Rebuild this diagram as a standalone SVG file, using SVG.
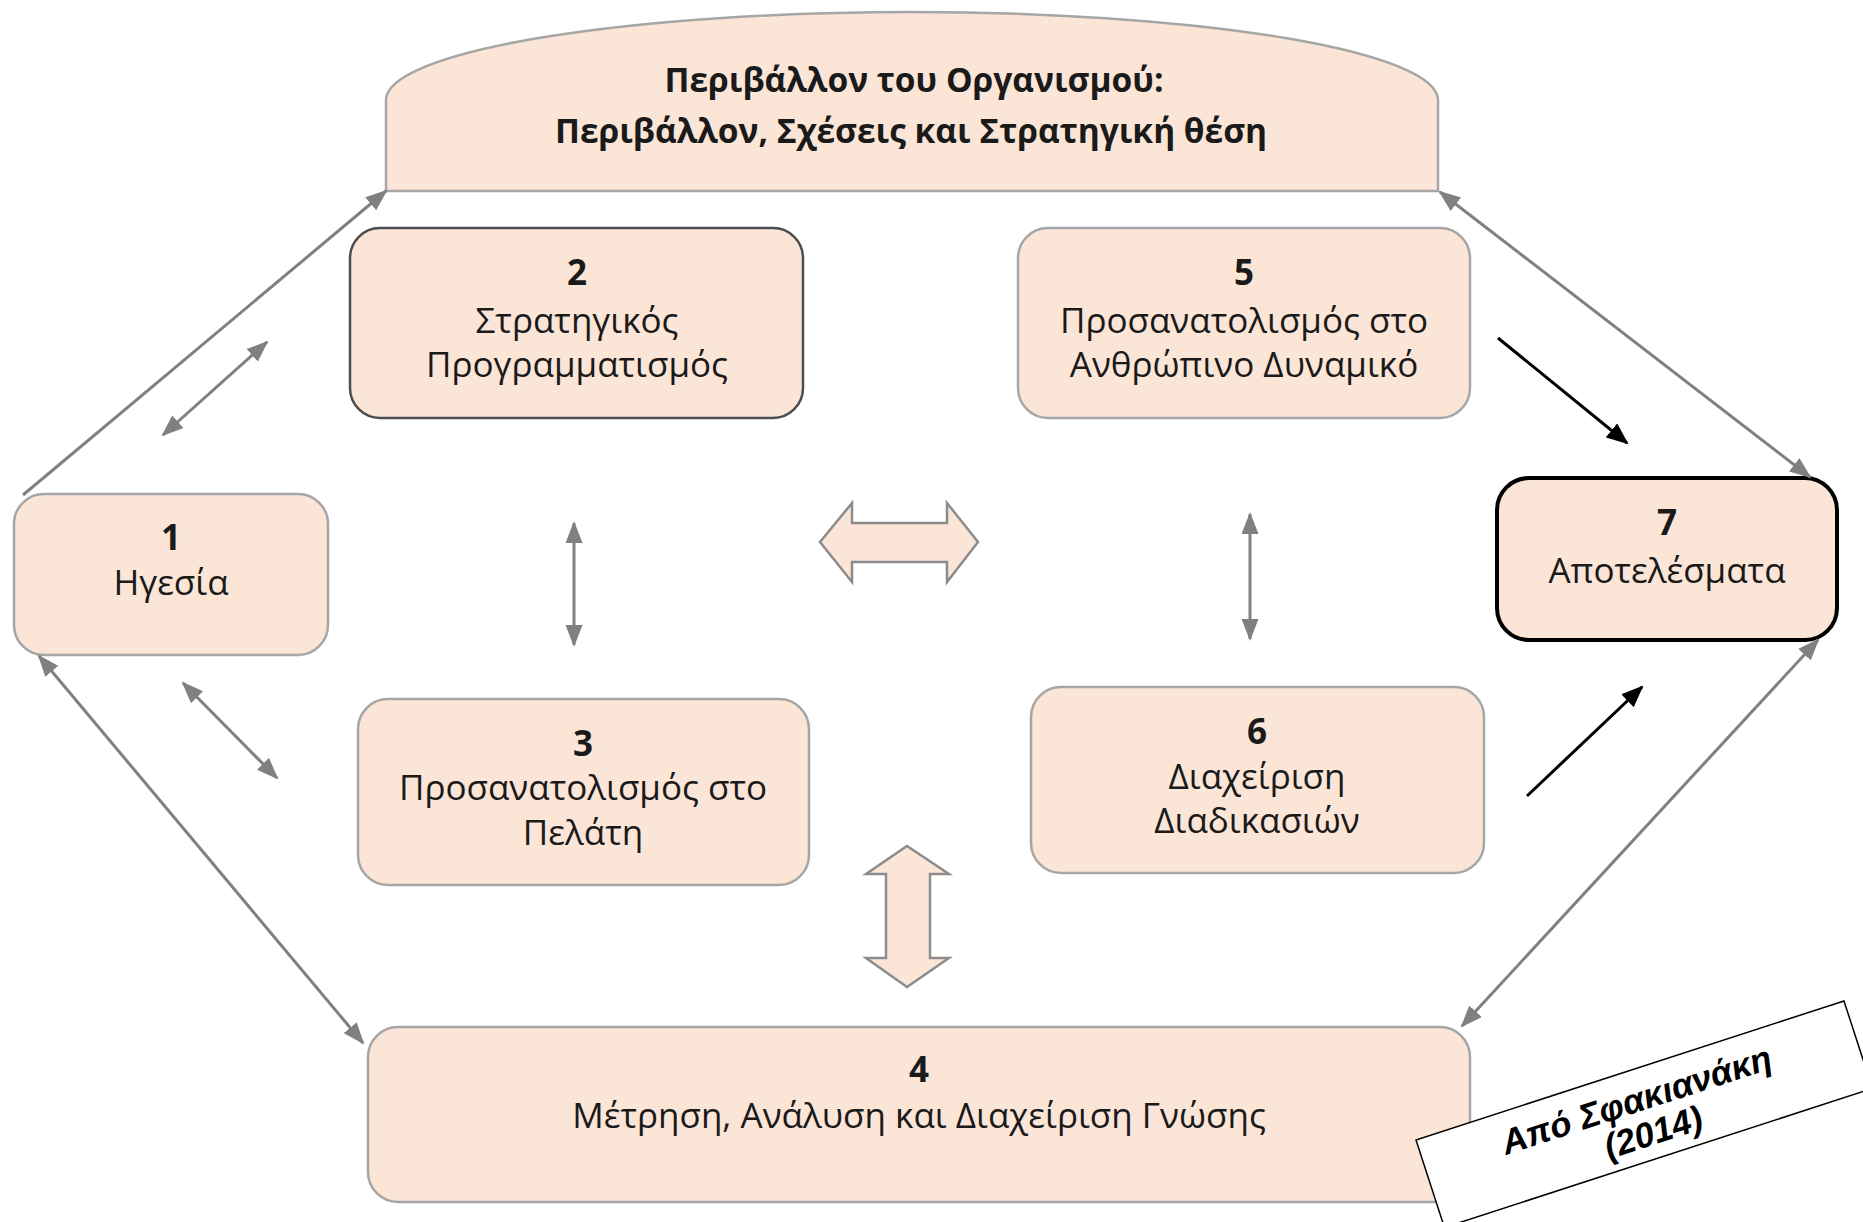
<svg xmlns="http://www.w3.org/2000/svg" width="1863" height="1222" viewBox="0 0 1863 1222">
<style>
.box{fill:#FBE5D6;stroke:#A6A6A6;stroke-width:2.5}
.t{font-family:"Open Sans","Noto Sans","DejaVu Sans",sans-serif;font-size:35px;fill:#1a1a1a;text-anchor:middle}
.n{font-weight:bold}
.title{font-family:"Open Sans","Noto Sans","DejaVu Sans",sans-serif;font-size:33.5px;font-weight:bold;fill:#1a1a1a;text-anchor:middle}
.g{stroke:#808080;stroke-width:3;fill:none}
.k{stroke:#000;stroke-width:3;fill:none}
.blk{fill:#FBE5D6;stroke:#8c8c8c;stroke-width:2.5;stroke-linejoin:miter}
.attr{font-family:"Liberation Sans",Arial,sans-serif;font-size:35px;font-weight:bold;font-style:italic;fill:#000;text-anchor:middle}
</style>
<defs>
<marker id="ag" markerUnits="userSpaceOnUse" markerWidth="22" markerHeight="17" refX="20" refY="8.5" orient="auto-start-reverse" viewBox="0 0 22 17">
<path d="M0,0 L22,8.5 L0,17 Z" fill="#808080"/>
</marker>
<marker id="ak" markerUnits="userSpaceOnUse" markerWidth="22" markerHeight="18" refX="20" refY="9" orient="auto" viewBox="0 0 22 18">
<path d="M0,0 L22,9 L0,18 Z" fill="#000"/>
</marker>
</defs>
<rect width="1863" height="1222" fill="#fff"/>

<g id="env">
<path class="box" d="M386,191 L386,100 A526,88 0 0 1 1438,100 L1438,191 Z"/>
<text class="title" x="914" y="92">Περιβάλλον του Οργανισμού:</text>
<text class="title" x="911" y="143">Περιβάλλον, Σχέσεις και Στρατηγική θέση</text>
</g>

<g id="node1">
<rect class="box" x="14" y="494" width="314" height="161" rx="30"/>
<text class="t n" x="171" y="550">1</text>
<text class="t" x="171" y="595">Ηγεσία</text>
</g>

<g id="node2">
<rect class="box" x="350" y="228" width="453" height="190" rx="30" style="stroke:#4d4d4d"/>
<text class="t n" x="577" y="285">2</text>
<text class="t" x="577" y="333">Στρατηγικός</text>
<text class="t" x="577" y="377">Προγραμματισμός</text>
</g>

<g id="node3">
<rect class="box" x="358" y="699" width="451" height="186" rx="30"/>
<text class="t n" x="583" y="756">3</text>
<text class="t" x="583" y="800">Προσανατολισμός στο</text>
<text class="t" x="583" y="845">Πελάτη</text>
</g>

<g id="node4">
<rect class="box" x="368" y="1027" width="1102" height="175" rx="30"/>
<text class="t n" x="919" y="1082">4</text>
<text class="t" x="919" y="1128">Μέτρηση, Ανάλυση και Διαχείριση Γνώσης</text>
</g>

<g id="node5">
<rect class="box" x="1018" y="228" width="452" height="190" rx="30"/>
<text class="t n" x="1244" y="285">5</text>
<text class="t" x="1244" y="333">Προσανατολισμός στο</text>
<text class="t" x="1244" y="377">Ανθρώπινο Δυναμικό</text>
</g>

<g id="node6">
<rect class="box" x="1031" y="687" width="453" height="186" rx="30"/>
<text class="t n" x="1257" y="744">6</text>
<text class="t" x="1257" y="789">Διαχείριση</text>
<text class="t" x="1257" y="833">Διαδικασιών</text>
</g>

<g id="node7">
<rect class="box" x="1497" y="478" width="340" height="162" rx="32" style="stroke:#000;stroke-width:4"/>
<text class="t n" x="1667" y="535">7</text>
<text class="t" x="1667" y="583">Αποτελέσματα</text>
</g>

<g id="connectors">
<line class="g" x1="23" y1="495" x2="386" y2="191" marker-end="url(#ag)"/>
<line class="g" x1="163" y1="435" x2="267" y2="342" marker-start="url(#ag)" marker-end="url(#ag)"/>
<line class="g" x1="39" y1="656" x2="363" y2="1043" marker-start="url(#ag)" marker-end="url(#ag)"/>
<line class="g" x1="183" y1="683" x2="277" y2="778" marker-start="url(#ag)" marker-end="url(#ag)"/>
<line class="g" x1="574" y1="523" x2="574" y2="645" marker-start="url(#ag)" marker-end="url(#ag)"/>
<line class="g" x1="1250" y1="514" x2="1250" y2="639" marker-start="url(#ag)" marker-end="url(#ag)"/>
<line class="g" x1="1440" y1="192" x2="1810" y2="477" marker-start="url(#ag)" marker-end="url(#ag)"/>
<line class="g" x1="1818" y1="640" x2="1462" y2="1026" marker-start="url(#ag)" marker-end="url(#ag)"/>
<line class="k" x1="1498" y1="338" x2="1627" y2="443" marker-end="url(#ak)"/>
<line class="k" x1="1527" y1="796" x2="1642" y2="687" marker-end="url(#ak)"/>
<path class="blk" d="M820,542 L852,503 L852,523 L947,523 L947,503 L978,542 L947,582 L947,562 L852,562 L852,582 Z"/>
<path class="blk" d="M907,846 L949,874 L930,874 L930,958 L949,958 L907,987 L866,958 L886,958 L886,874 L866,874 Z"/>
</g>

<g id="attribution" transform="translate(1416,1140) rotate(-18)">
<rect x="0" y="0" width="450" height="92" fill="#fff" stroke="#000" stroke-width="1.5"/>
<text class="attr" x="222" y="42">Από Σφακιανάκη</text>
<text class="attr" x="228" y="78">(2014)</text>
</g>
</svg>
